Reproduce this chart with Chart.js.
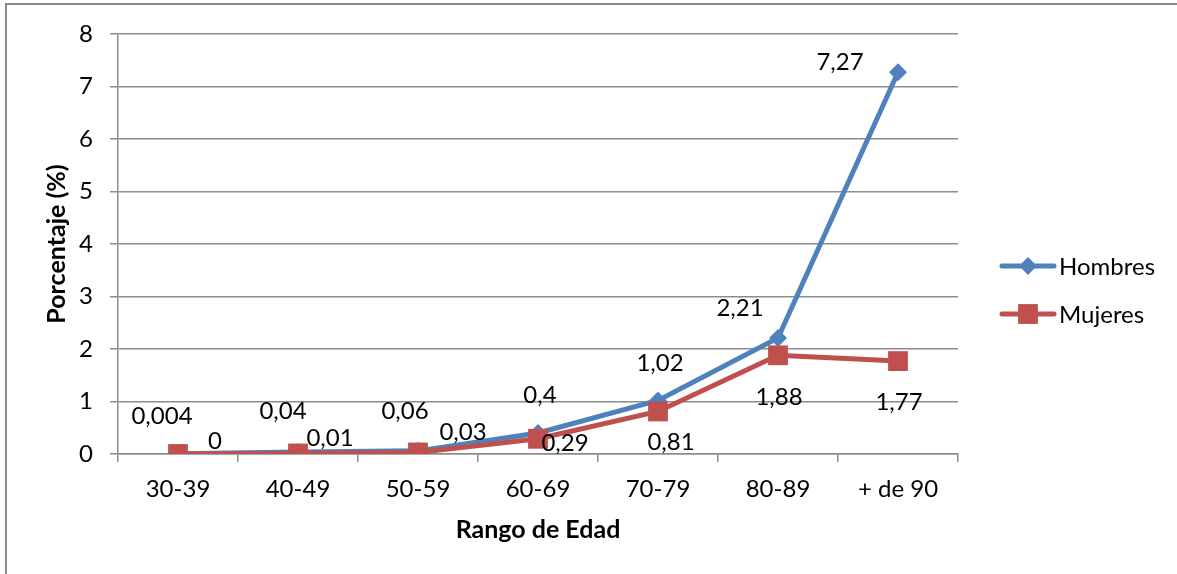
<!DOCTYPE html>
<html>
<head>
<meta charset="utf-8">
<script src="https://cdn.jsdelivr.net/npm/chart.js@4/dist/chart.umd.min.js"></script>
<style>
  html, body { margin: 0; padding: 0; background: #ffffff; }
  canvas { display: block; }
</style>
</head>
<body>
<canvas id="c" width="1177" height="574"></canvas>
<script>
// ---- data ----
const categories = ['30-39', '40-49', '50-59', '60-69', '70-79', '80-89', '+ de 90'];
const hombres = [0.004, 0.04, 0.06, 0.4, 1.02, 2.21, 7.27];
const mujeres = [0, 0.01, 0.03, 0.29, 0.81, 1.88, 1.77];
const hombresLabels = ['0,004', '0,04', '0,06', '0,4', '1,02', '2,21', '7,27'];
const mujeresLabels = ['0', '0,01', '0,03', '0,29', '0,81', '1,88', '1,77'];
const yTicks = [0, 1, 2, 3, 4, 5, 6, 7, 8];

// label offsets (pixels from the point, as placed in the original)
const hombresLabelOffsets = [[-16,-38],[-15,-41],[-13,-40],[2,-38],[2,-37],[-38,-30],[-58,-10]];
const mujeresLabelOffsets = [[37,-13],[32,-15],[45,-20],[27,4],[13,31],[1,42],[1,41]];

const FONT = 'Lato, "Open Sans", sans-serif';
const FS = 24;
const BLUE = '#4F81BD';
const RED = '#C0504D';
const GRID = '#8c8c8c';

const frame = {
  id: 'frame',
  beforeDraw(chart) {
    const ctx = chart.ctx;
    ctx.save();
    ctx.fillStyle = '#fff';
    ctx.fillRect(0, 0, chart.width, chart.height);
    ctx.strokeStyle = GRID;
    ctx.lineWidth = 2;
    ctx.strokeRect(6, 4, chart.width + 20, chart.height + 20);
    ctx.restore();
  }
};

const dataLabels = {
  id: 'dataLabels',
  afterDatasetsDraw(chart) {
    const ctx = chart.ctx;
    ctx.save();
    ctx.font = FS + 'px ' + FONT;
    ctx.fillStyle = '#000';
    ctx.textAlign = 'center';
    ctx.textBaseline = 'middle';
    chart.data.datasets.forEach((ds, i) => {
      const meta = chart.getDatasetMeta(i);
      meta.data.forEach((pt, j) => {
        const off = ds.labelOffsets[j];
        ctx.fillText(ds.labels[j], pt.x + off[0], pt.y + off[1]);
      });
    });
    ctx.restore();
  }
};

const legendPlugin = {
  id: 'customLegend',
  afterDraw(chart) {
    const ctx = chart.ctx;
    const items = [
      {text: 'Hombres', color: BLUE, style: 'rectRot', r: 9},
      {text: 'Mujeres', color: RED, style: 'rect', r: 14}
    ];
    const x0 = 1002, x1 = 1054, ys = [266, 314];
    ctx.save();
    items.forEach((it, k) => {
      const y = ys[k];
      ctx.strokeStyle = it.color;
      ctx.lineWidth = 5;
      ctx.lineCap = 'round';
      ctx.beginPath();
      ctx.moveTo(x0, y);
      ctx.lineTo(x1, y);
      ctx.stroke();
      ctx.fillStyle = it.color;
      Chart.helpers.drawPoint(ctx, {pointStyle: it.style, radius: it.r, borderWidth: 0}, (x0 + x1) / 2, y);
      ctx.fillStyle = '#000';
      ctx.font = FS + 'px ' + FONT;
      ctx.textAlign = 'left';
      ctx.textBaseline = 'middle';
      ctx.fillText(it.text, x1 + 5, y + 1);
    });
    ctx.restore();
  }
};

new Chart(document.getElementById('c'), {
  type: 'line',
  data: {
    labels: categories,
    datasets: [
      {
        label: 'Hombres', data: hombres, labels: hombresLabels, labelOffsets: hombresLabelOffsets,
        borderColor: BLUE, backgroundColor: BLUE, borderWidth: 5,
        pointStyle: 'rectRot', pointRadius: 9, pointBorderWidth: 0, pointBackgroundColor: BLUE,
        tension: 0, order: 1
      },
      {
        label: 'Mujeres', data: mujeres, labels: mujeresLabels, labelOffsets: mujeresLabelOffsets,
        borderColor: RED, backgroundColor: RED, borderWidth: 5,
        pointStyle: 'rect', pointRadius: 14, pointBorderWidth: 0, pointBackgroundColor: RED,
        tension: 0, order: 0
      }
    ]
  },
  options: {
    responsive: false,
    animation: false,
    layout: { padding: { left: 0, top: 34, right: 219, bottom: 0 } },
    plugins: { legend: { display: false }, tooltip: { enabled: false } },
    scales: {
      x: {
        offset: true,
        grid: { offset: true, drawOnChartArea: false, drawTicks: true, tickLength: 8, color: GRID, lineWidth: 1.5 },
        border: { display: true, color: GRID, width: 1.5 },
        ticks: { color: '#000', font: { family: FONT, size: FS }, padding: 13, maxRotation: 0, autoSkip: false },
        title: { display: true, text: 'Rango de Edad', color: '#000', font: { family: FONT, size: 25, weight: 'bold' }, padding: { top: 0, bottom: 29 } },
        afterFit(scale) { scale.height = 120; }
      },
      y: {
        min: 0, max: 8,
        afterBuildTicks(scale) { scale.ticks = yTicks.map(v => ({ value: v })); },
        grid: { drawTicks: true, tickLength: 8, color: GRID, lineWidth: 1.5 },
        border: { display: true, color: GRID, width: 1.5 },
        ticks: { color: '#000', font: { family: FONT, size: FS }, padding: 17 },
        title: { display: true, text: 'Porcentaje (%)', color: '#000', font: { family: FONT, size: 25, weight: 'bold' }, padding: { top: 42, bottom: 0 } },
        afterFit(scale) { scale.width = 118; }
      }
    }
  },
  plugins: [frame, dataLabels, legendPlugin]
});
</script>
</body>
</html>
